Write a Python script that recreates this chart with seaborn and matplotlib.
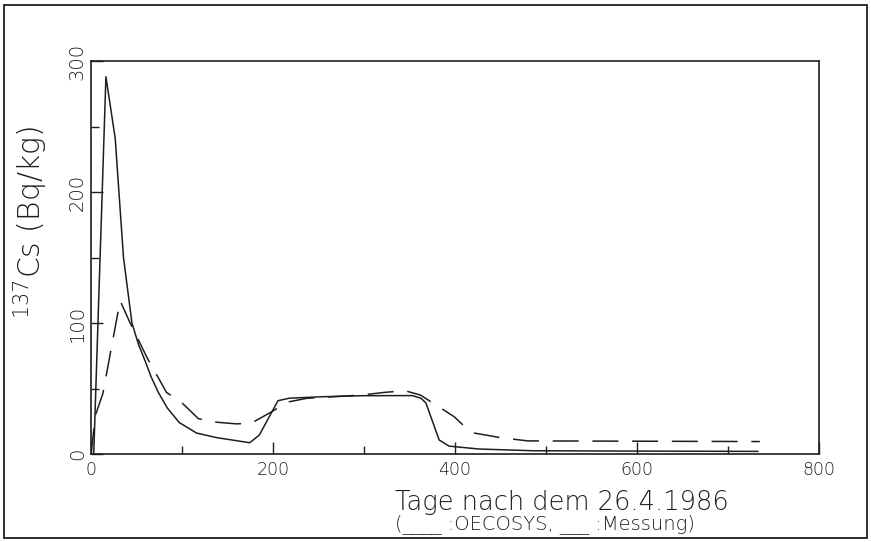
import matplotlib
matplotlib.use("Agg")
import matplotlib.pyplot as plt
import seaborn as sns
import pandas as pd
from matplotlib.patches import Rectangle

# OECOSYS model (solid line)
oecosys_days = [3, 16.4, 26.6, 35.7, 45, 52, 59.5, 66, 74, 84, 97, 116, 138, 174.5, 185,
                205.5, 218, 254, 298, 353, 362.5, 368, 382.6, 393.5, 426.5, 485, 557.7, 733]
oecosys_cs = [0, 288, 241, 150, 100, 84, 71, 59, 47, 35, 24, 16, 12.5, 8.6, 14.5,
              40.7, 42.6, 43.7, 44.5, 44.6, 42.6, 39, 10.7, 6, 3.8, 2.5, 2.3, 2]

# Measurement (dashed line)
messung_days = [0, 5, 13, 32, 43, 62, 83, 100, 118, 134, 160, 176, 198, 215, 237,
                297, 322, 345, 362, 399, 412, 421, 450, 480, 735]
messung_cs = [0, 30, 46, 117, 100, 73, 47, 39, 27, 24.5, 23, 23.5, 32, 39.5, 42.5,
              45, 47, 48.3, 45, 28.5, 20, 16, 12.5, 10, 9.5]

x_major = [0, 200, 400, 600, 800]
x_minor = [100, 300, 500, 700]
y_major = [0, 100, 200, 300]
y_minor = [50, 150, 250]

x_title = "Tage nach dem 26.4.1986"
legend_text = "(____ :OECOSYS, ___ :Messung)"
y_title = r"$^{137}$Cs (Bq/kg)"

sns.set_style("ticks")
plt.rcParams['font.family'] = ['DejaVu Sans']
plt.rcParams['font.weight'] = 'light'
plt.rcParams['mathtext.default'] = 'regular'

ink = '#1e1e1e'
W, H = 871, 542
fig = plt.figure(figsize=(W / 100, H / 100), dpi=100)
ax = fig.add_axes([91 / W, 1 - 454 / H, (819 - 91) / W, (454 - 61) / H])

df_o = pd.DataFrame({"day": oecosys_days, "cs": oecosys_cs})
df_m = pd.DataFrame({"day": messung_days, "cs": messung_cs})
sns.lineplot(data=df_o, x="day", y="cs", ax=ax, color=ink, lw=1.1,
             sort=False, estimator=None)
sns.lineplot(data=df_m, x="day", y="cs", ax=ax, color=ink, lw=1.1,
             sort=False, estimator=None)
ax.lines[1].set_linestyle((0, (17, 9)))

ax.set_xlim(0, 800)
ax.set_ylim(0, 300)
ax.set_xticks(x_major)
ax.set_xticks(x_minor, minor=True)
ax.set_yticks(y_major)
ax.set_yticks(y_minor, minor=True)
ax.set_xticklabels([str(v) for v in x_major])
ax.set_yticklabels([str(v) for v in y_major])
ax.set_xlabel("")
ax.set_ylabel("")

for s in ax.spines.values():
    s.set_visible(True)
    s.set_linewidth(1.2)
    s.set_color(ink)

ax.tick_params(which='both', direction='in', color=ink, width=1.0)
ax.tick_params(which='major', length=8.5)
ax.tick_params(which='minor', length=6)
ax.tick_params(axis='x', which='major', labelsize=12.5, pad=5, labelcolor=ink)
ax.tick_params(axis='y', which='major', labelsize=14, pad=3, labelrotation=90,
               labelcolor=ink)
for lab in ax.get_yticklabels():
    lab.set_va('center')

fig.patches.append(Rectangle((4 / W, 4 / H), 863 / W, 533 / H, transform=fig.transFigure,
                             fill=False, lw=1.3, ec=ink))

fig.text(50 / W, 1 - 222 / H, y_title, rotation=90, ha='right', va='center',
         fontsize=21.5, color=ink)
fig.text(395 / W, 1 - 510 / H, x_title, ha='left', va='baseline', fontsize=18.5, color=ink)
fig.text(395 / W, 1 - 529 / H, legend_text, ha='left', va='baseline', fontsize=14,
         color=ink)

fig.savefig("out.png", dpi=100, facecolor='white')
